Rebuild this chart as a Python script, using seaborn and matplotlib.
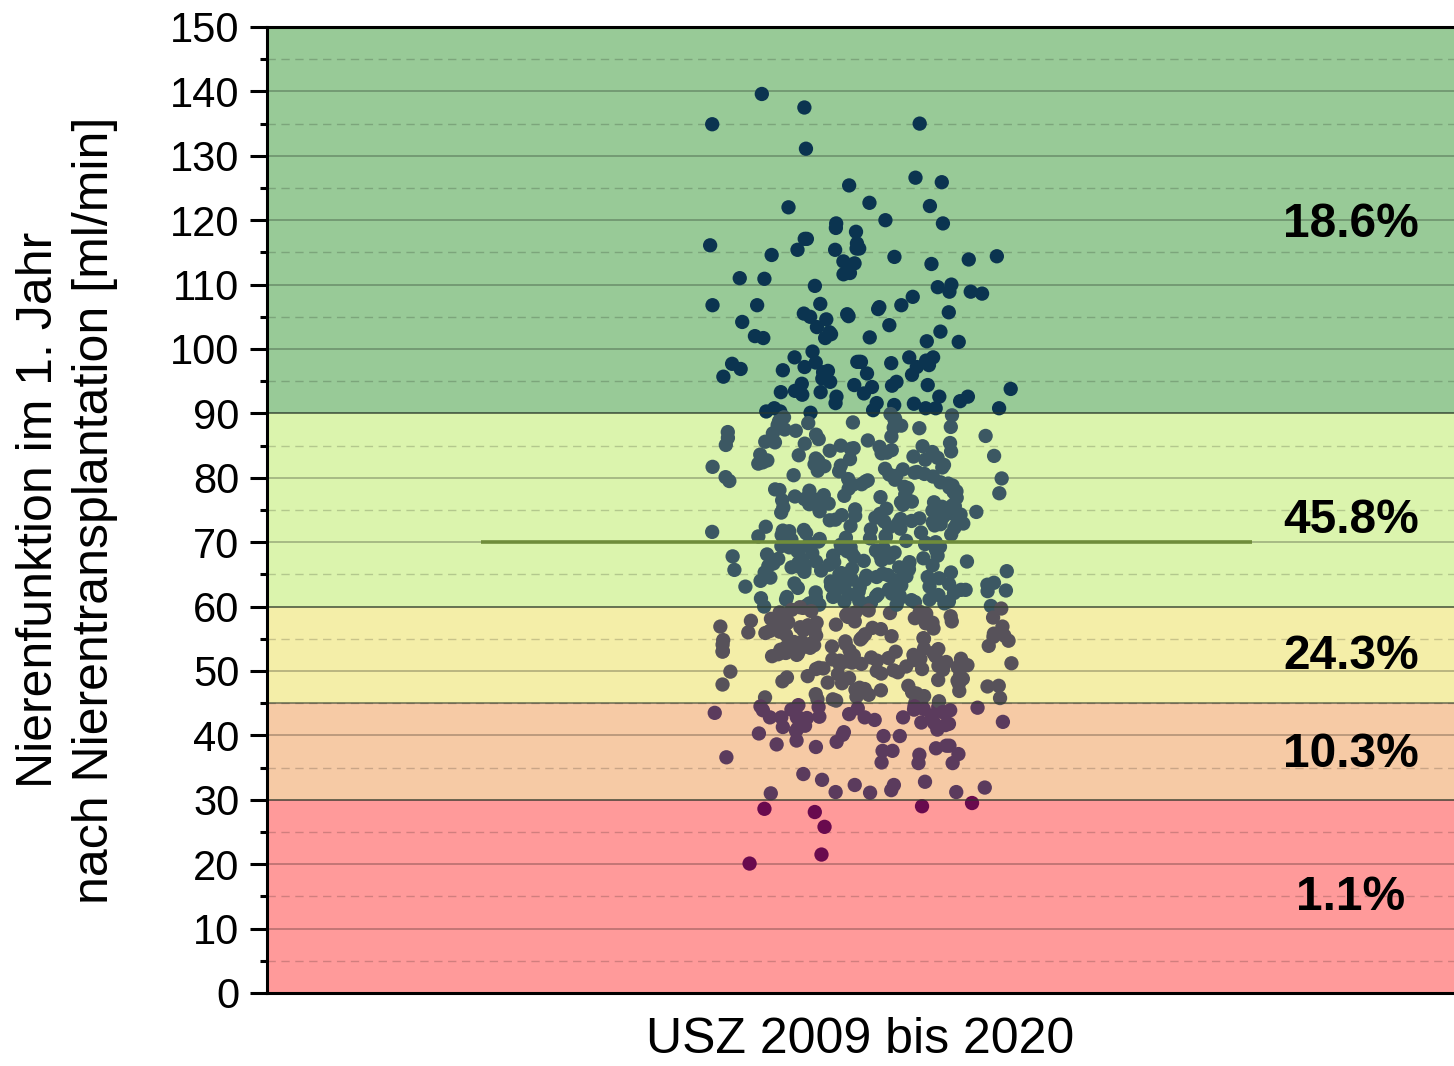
import numpy as np
import pandas as pd
import matplotlib
matplotlib.use("Agg")
import matplotlib.pyplot as plt
from matplotlib.ticker import MultipleLocator
import seaborn as sns

# ---------------- data ----------------
COHORT = "USZ 2009 bis 2020"

GFR_ABOVE_90 = [139.6, 137.5, 135.0, 134.9, 131.1, 126.6, 125.4, 125.9, 122.7, 122.2,
                122.0, 120.0, 118.8, 119.5, 119.5, 118.2, 117.1, 117.1, 116.1, 116.4,
                115.6, 115.6, 115.4, 115.4, 114.4, 114.3, 113.3, 113.9, 114.6, 113.6,
                113.2, 111.6, 111.8, 111.0, 110.9, 109.8, 108.6, 110.0, 109.6, 108.9,
                108.9, 108.1, 106.8, 105.4, 105.7, 106.8, 107.0, 106.5, 106.8, 106.2,
                105.1, 104.2, 105.0, 104.6, 105.5, 103.7, 103.4, 102.0, 102.6, 102.3,
                102.7, 101.7, 101.2, 101.1, 101.8, 101.7, 99.6, 98.7, 98.0, 97.2,
                97.2, 98.0, 96.9, 95.4, 97.5, 97.7, 98.7, 97.9, 98.2, 98.0,
                98.7, 97.8, 96.7, 96.6, 95.7, 96.2, 94.9, 94.4, 93.3, 96.0,
                94.9, 94.1, 93.1, 92.6, 92.6, 96.4, 94.4, 92.6, 91.9, 94.3,
                93.5, 92.9, 91.6, 91.3, 91.5, 90.8, 90.8, 93.3, 93.8, 94.6,
                90.8, 90.1, 91.6, 90.5, 90.3, 90.8, 90.3]

GFR_60_TO_90 = [
    89.7, 88.2, 86.4, 85.1, 89.2, 87.5, 86.0, 88.8, 85.6, 87.1,
    89.9, 86.7, 85.3, 88.5, 87.8, 86.2, 89.4, 85.8, 87.3, 88.0,
    86.9, 85.4, 89.0, 87.7, 86.5, 88.6, 85.0, 87.9, 88.1, 85.5,
    84.8, 83.0, 81.6, 80.3, 84.1, 82.7, 81.1, 83.6, 80.8, 82.2,
    84.5, 83.3, 81.9, 80.5, 82.9, 84.0, 81.3, 83.8, 80.1, 82.4,
    84.6, 81.7, 83.1, 80.9, 82.0, 84.3, 81.4, 83.5, 80.6, 82.6,
    84.9, 81.0, 83.9, 80.2, 82.8, 81.8, 83.4, 80.4, 82.1, 84.2,
    79.8, 78.1, 76.6, 75.2, 79.3, 77.7, 76.0, 78.8, 75.5, 77.2,
    79.6, 78.4, 76.9, 75.8, 77.9, 79.0, 76.3, 78.6, 75.1, 77.4,
    79.9, 76.7, 78.2, 75.9, 77.0, 79.4, 76.2, 78.9, 75.4, 77.6,
    79.1, 76.5, 78.0, 75.6, 77.3, 79.7, 76.1, 78.5, 75.3, 77.8,
    76.2, 78.3, 75.7, 77.1, 79.5,
    74.9, 73.2, 71.6, 70.3, 74.4, 72.8, 71.1, 73.7, 70.7, 72.3,
    74.6, 73.0, 71.9, 70.1, 72.6, 74.1, 71.4, 73.5, 70.5, 72.0,
    74.8, 71.7, 73.3, 70.9, 72.5, 74.2, 71.2, 73.8, 70.4, 72.9,
    74.0, 71.8, 73.1, 70.6, 72.2, 74.7, 71.3, 73.6, 70.2, 72.7,
    74.3, 71.5, 73.4, 70.8, 72.4, 74.5, 71.0, 73.9, 70.0, 72.1,
    69.8, 68.1, 66.5, 65.2, 69.3, 67.7, 66.0, 68.6, 65.6, 67.2,
    69.5, 68.4, 66.9, 65.0, 67.9, 69.0, 66.3, 68.8, 65.4, 67.4,
    69.9, 66.7, 68.2, 65.8, 67.0, 69.2, 66.1, 68.9, 65.3, 67.6,
    69.1, 66.6, 68.0, 65.7, 67.3, 69.6, 66.2, 68.5, 65.1, 67.8,
    69.4, 66.8, 68.3, 65.9, 67.1, 69.7, 66.4, 68.7, 65.5, 67.5,
    66.9, 66.1, 68.6, 67.0, 69.2, 65.3, 67.9, 66.6,
    64.9, 63.1, 61.7, 60.2, 64.3, 62.6, 61.0, 63.8, 60.6, 62.1,
    64.6, 63.4, 61.9, 60.4, 62.8, 64.0, 61.3, 63.6, 60.9, 62.4,
    64.8, 61.5, 63.2, 60.1, 62.7, 64.2, 61.1, 63.9, 60.7, 62.3,
    64.5, 61.8, 63.0, 60.3, 62.9, 64.7, 61.2, 63.5, 60.8, 62.0,
    64.1, 61.6, 63.3, 60.5, 62.5, 64.4, 61.4, 63.7, 60.0, 62.2,
    62.6, 61.5, 60.5, 63.1, 64.2, 60.8, 61.9, 62.9, 63.6, 60.3,
    64.6, 61.1, 62.4, 63.9, 60.6]

GFR_45_TO_60 = [
    59.8, 58.2, 56.6, 55.3, 59.3, 57.7, 56.1, 58.8, 55.6, 57.2,
    59.5, 58.4, 56.9, 55.1, 57.9, 59.0, 56.3, 58.6, 55.8, 57.4,
    59.9, 56.7, 58.1, 55.4, 57.0, 59.2, 56.2, 58.9, 55.7, 57.6,
    59.6, 56.5, 58.0, 55.2, 57.3, 59.4, 56.0, 58.5, 55.9, 57.8,
    59.1, 56.8, 58.3, 55.0, 57.1, 59.7, 56.4, 58.7, 55.5, 57.5,
    55.5, 57.5, 57.7, 59.1, 56.9,
    54.9, 53.2, 51.6, 50.3, 54.4, 52.8, 51.1, 53.7, 50.7, 52.3,
    54.6, 53.0, 51.9, 50.1, 52.6, 54.1, 51.4, 53.5, 50.5, 52.0,
    54.8, 51.7, 53.3, 50.9, 52.5, 54.2, 51.2, 53.8, 50.4, 52.9,
    54.0, 51.8, 53.1, 50.6, 52.2, 54.7, 51.3, 53.6, 50.2, 52.7,
    54.3, 51.5, 53.4, 50.8, 52.4, 54.5, 51.0, 53.9, 50.0, 52.1,
    50.3, 53.4, 52.3, 54.1, 51.9, 52.8, 53.0, 51.6, 52.5, 54.4,
    49.8, 48.1, 46.5, 45.2, 49.3, 47.7, 46.0, 48.6, 45.6, 47.2,
    49.5, 48.4, 46.9, 45.1, 47.9, 49.0, 46.3, 48.8, 45.4, 47.4,
    49.9, 46.7, 48.2, 45.8, 47.0, 49.2, 46.1, 48.9, 45.3, 47.6,
    47.7, 45.6, 48.5, 46.4, 49.6, 45.9, 47.1, 48.0]

GFR_30_TO_45 = [
    44.5, 42.9, 41.6, 42.1, 42.7, 42.0, 40.7, 41.9, 41.1, 43.9,
    43.3, 42.8, 40.3, 40.1, 42.8, 42.8, 44.5, 44.2, 44.0, 42.8,
    42.8, 41.3, 42.8, 44.4, 44.4, 44.1, 44.0, 44.3, 43.9, 43.6,
    41.5, 40.5, 43.1, 44.7, 42.4, 40.9, 43.5, 41.8,
    38.6, 39.0, 38.2, 39.2, 36.6, 35.7, 39.9, 39.9, 38.4, 37.1,
    35.7, 37.0, 38.0, 35.8, 38.4, 37.6, 37.6,
    32.8, 31.2, 31.5, 32.3, 34.0, 31.9, 32.3, 31.0, 31.1, 33.1, 31.2]

GFR_BELOW_30 = [29.5, 29.0, 28.6, 28.1, 25.8, 21.5, 20.1]

MEAN_GFR = 70

BAND_EDGES = [0, 30, 45, 60, 90, 150]
BAND_NAMES = ["<30", "30-45", "45-60", "60-90", ">90"]
BAND_PERCENT = ["1.1%", "10.3%", "24.3%", "45.8%", "18.6%"]

Y_LABEL = "Nierenfunktion im 1. Jahr\nnach Nierentransplantation [ml/min]"

# ---------------- styles ----------------
BAND_BG = ["#ff9a9a", "#f6caa5", "#f4eea8", "#dbf4ad", "#98ca97"]
BAND_POINT = {"<30": "#690a4e", "30-45": "#5b3b5d", "45-60": "#57525a",
              "60-90": "#3c5863", ">90": "#0b3450"}
LABEL_Y = [14.8, 37.0, 52.2, 73.4, 119.3]

sns.set_theme(style="ticks")
plt.rcParams["font.family"] = ["Liberation Sans", "DejaVu Sans"]
for key in ["text.color", "axes.labelcolor", "xtick.color", "ytick.color",
            "xtick.labelcolor", "ytick.labelcolor"]:
    plt.rcParams[key] = "black"

gfr = GFR_ABOVE_90 + GFR_60_TO_90 + GFR_45_TO_60 + GFR_30_TO_45 + GFR_BELOW_30
df = pd.DataFrame({"cohort": COHORT, "gfr": gfr})
df["band"] = pd.cut(df["gfr"], bins=[0, 30, 45, 60, 90, 1000], right=False,
                    labels=BAND_NAMES).astype(str)
# two jitter layers: a compact core and a wider halo (gives a centre-dense cloud)
wide = (np.arange(len(df)) % 3) == 0

fig = plt.figure(figsize=(14.54, 10.66), dpi=100)
ax = fig.add_axes([267 / 1454, 1 - 993 / 1066, 1187 / 1454, 966 / 1066])

# background bands
for lo, hi, col in zip(BAND_EDGES[:-1], BAND_EDGES[1:], BAND_BG):
    ax.axhspan(lo, hi, color=col, zorder=0, lw=0)

np.random.seed(11)
for part, jit in [(df[wide], 0.13), (df[~wide], 0.085)]:
    sns.stripplot(data=part, x="cohort", y="gfr", hue="band",
                  hue_order=BAND_NAMES[::-1], palette=BAND_POINT,
                  jitter=jit, size=10.3, linewidth=0, legend=False,
                  ax=ax, zorder=3)

ax.set_xlim(-0.5, 0.5)
ax.set_ylim(0, 150)
ax.set_yticks(np.arange(0, 151, 10))
ax.yaxis.set_minor_locator(MultipleLocator(5))

# grid
ax.grid(which="major", axis="y", color="black", alpha=0.3, lw=1.1, zorder=1)
ax.grid(which="minor", axis="y", color="black", alpha=0.18, lw=1.0, ls=(0, (6, 4)), zorder=1)
ax.grid(which="major", axis="x", visible=False)
ax.set_axisbelow(True)

# band boundaries
for b in BAND_EDGES[1:-1]:
    ax.axhline(b, color="#2b3a2b", alpha=0.55, lw=1.4, zorder=4)

# mean line
ax.hlines(MEAN_GFR, -0.32, 0.33, color="#6f8c3b", lw=2.6, zorder=5)

# percentages
for y, txt in zip(LABEL_Y, BAND_PERCENT):
    ax.text(0.413, y, txt, ha="center", va="center", fontsize=34.5,
            fontweight="bold", color="black", zorder=6)

for side in ["left", "bottom", "top"]:
    ax.spines[side].set_linewidth(2.2)
    ax.spines[side].set_color("black")
    ax.spines[side].set_zorder(7)
ax.spines["right"].set_visible(False)

ax.tick_params(axis="y", which="major", length=12, width=2.2, labelsize=30, pad=8,
               color="black", labelcolor="black")
ax.tick_params(axis="y", which="minor", length=5, width=2.2, color="black")
ax.tick_params(axis="x", which="both", length=0, labelsize=36, pad=17, labelcolor="black")
for lab in ax.get_xticklabels():
    lab.set_x(0.01)
ax.set_xlabel("")
ax.set_ylabel("")

fig.text(67 / 1454, 1 - 510 / 1066, Y_LABEL, rotation=90, ha="center", va="center",
         fontsize=36, linespacing=1.3, multialignment="center", color="black")

fig.savefig("out.png", dpi=100)
